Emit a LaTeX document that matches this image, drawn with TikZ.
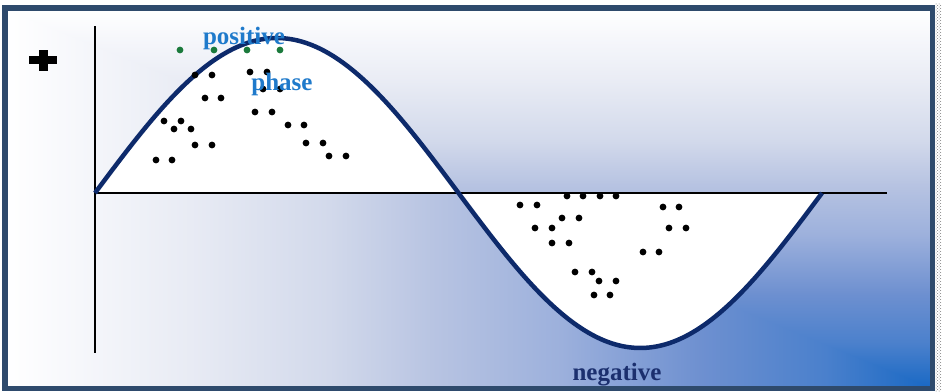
\documentclass[tikz,border=0pt]{standalone}
\usepackage{fontspec}
\setmainfont{Liberation Serif}
\usetikzlibrary{patterns}
\definecolor{frameC}{HTML}{2E4A6C}
\definecolor{curveC}{HTML}{0D2A6B}
\definecolor{posC}{HTML}{1F7ACB}
\definecolor{negC}{HTML}{1B2F6E}
\definecolor{greenC}{HTML}{1B7A3C}
\definecolor{g0}{HTML}{1868C4}
\definecolor{g1}{HTML}{4A80CC}
\definecolor{g2}{HTML}{6E90D0}
\definecolor{g3}{HTML}{9CB0DC}
\definecolor{g4}{HTML}{B8C4E2}
\definecolor{g5}{HTML}{D2D9EB}
\definecolor{g6}{HTML}{E8EBF4}
\definecolor{g7}{HTML}{F6F7FB}
\definecolor{g8}{HTML}{FFFFFF}
\tikzset{
  dot/.style={fill=black, draw=none},
  gdot/.style={fill=greenC, draw=none},
  lbl/.style={font=\fontsize{25}{30}\selectfont\bfseries, inner sep=0pt},
}
\begin{document}
\begin{tikzpicture}[x=1pt,y=-1pt]
\useasboundingbox (0,0) rectangle (944,391);
\fill[white] (0,0) rectangle (944,391);
% background gradient (rectangular gradient from bottom-right corner)
\begin{scope}
\clip (5,8) -- (5,388) -- (932,388) -- (933,387) -- cycle;
\foreach \xa/\xb/\ca/\cb in {932/825.4/g0/g1, 825.4/700.25/g1/g2, 700.25/561.2/g2/g3, 561.2/431.4/g3/g4, 431.4/329.45/g4/g5, 329.45/190.4/g5/g6, 190.4/79.16/g6/g7, 79.16/5/g7/g8}
  \shade[right color=\ca, left color=\cb] (\xa+0.3,8) rectangle (\xb-0.3,388);
\end{scope}
\begin{scope}
\clip (5,8) -- (932,8) -- (932,388) -- (4,9) -- cycle;
\foreach \ya/\yb/\ca/\cb in {388/344.3/g0/g1, 344.3/293/g1/g2, 293/236/g2/g3, 236/182.8/g3/g4, 182.8/141/g4/g5, 141/84/g5/g6, 84/38.4/g6/g7, 38.4/8/g7/g8}
  \shade[bottom color=\ca, top color=\cb] (5,\ya+0.3) rectangle (932,\yb-0.3);
\end{scope}
% checkered strip
\fill[pattern=crosshatch dots, pattern color=gray] (935,3) rectangle (941,391);
% frame
\draw[frameC, line width=5.5pt] (4.75,7.75) rectangle (932.25,388.25);
% white fill of curve lobes
\fill[white] plot[domain=0:360, samples=120, smooth] ({95+\x*2.019444},{193-155*sin(\x)}) -- cycle;
% axes
\coordinate (o) at (95,193);
\coordinate (ytop) at (95,26);
\coordinate (ybot) at (95,353);
\coordinate (xend) at (887,193);
\draw[black, line width=1.5pt] (ytop) -- (ybot);
\draw[black, line width=1.5pt] (o) -- (xend);
% sine
\draw[curveC, line width=4.5pt, line join=round] plot[domain=0:360, samples=120, smooth] ({95+\x*2.019444},{193-155*sin(\x)});
% plus sign
\coordinate (pl) at (29,60); \coordinate (pr) at (57,60);
\coordinate (pt) at (43,50); \coordinate (pb) at (43,71);
\draw[black, line width=8pt] (pl) -- (pr);
\draw[black, line width=9pt] (pt) -- (pb);
% green dots
\foreach \x in {180,214,247,280} \fill[gdot] (\x,50) circle (3.4pt);
% black dots
\foreach \p in {(195,75),(212,75),(250,72),(267,72),(205,98),(221,98),(263,89),(280,89),(255,112),(272,112),(164,121),(181,121),(174,129),(191,129),(288,125),(304,125),(195,145),(212,145),(306,143),(323,143),(156,160),(172,160),(329,156),(346,156),
(567,196),(583,196),(600,196),(616,196),(520,205),(537,205),(562,218),(579,218),(535,228),(552,228),(552,243),(569,243),(663,207),(679,207),(669,228),(686,228),(643,252),(659,252),(575,272),(592,272),(599,281),(616,281),(594,295),(610,295)}
  \fill[dot] \p circle (3.4pt);
% labels
\node[lbl, text=posC] (pos) at (244,38) {positive};
\node[lbl, text=posC] (ph) at (282,84) {phase};
\node[lbl, text=negC] (neg) at (617,375) {negative};
\end{tikzpicture}
\end{document}
